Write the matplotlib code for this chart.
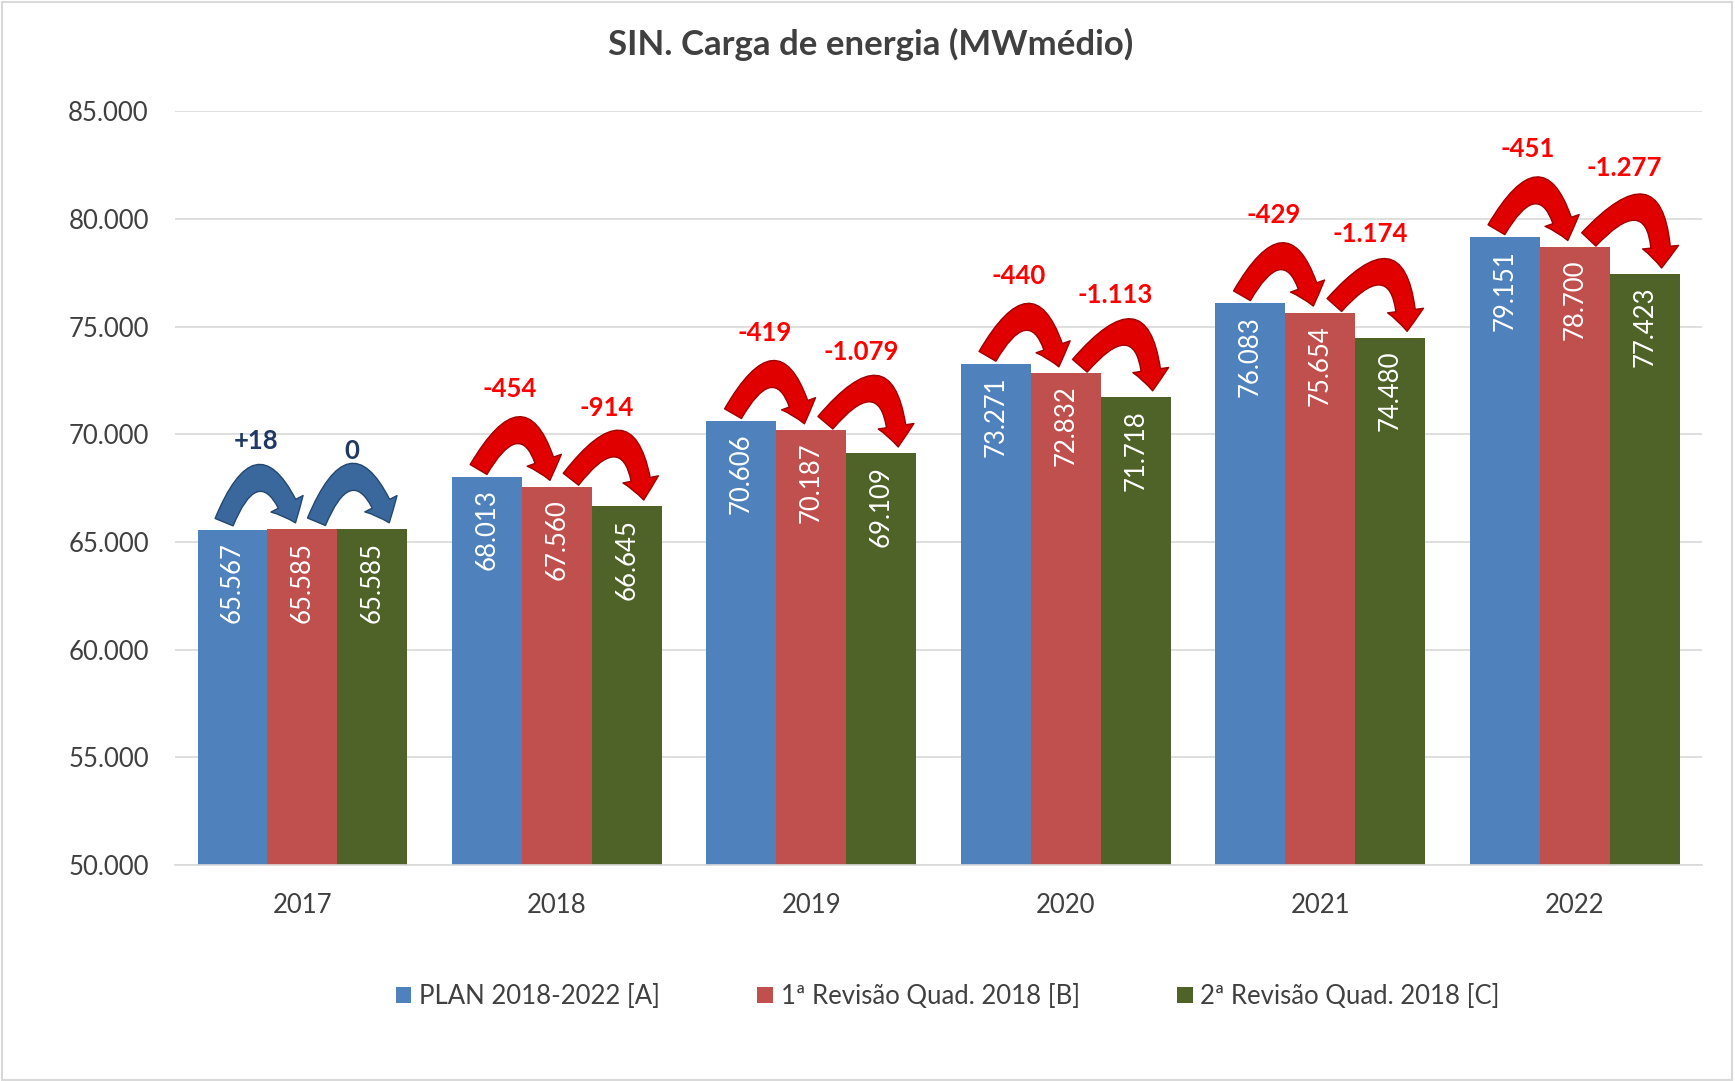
import matplotlib.pyplot as plt
from matplotlib.patches import FancyArrowPatch, Rectangle
import numpy as np

plt.rcParams['font.family'] = ['Lato', 'DejaVu Sans']

anos = ['2017', '2018', '2019', '2020', '2021', '2022']
plan_a = [65567, 68013, 70606, 73271, 76083, 79151]
rev1_b = [65585, 67560, 70187, 72832, 75654, 78700]
rev2_c = [65585, 66645, 69109, 71718, 74480, 77423]
delta_ba = ['+18', '-454', '-419', '-440', '-429', '-451']
delta_cb = ['0', '-914', '-1.079', '-1.113', '-1.174', '-1.277']
series_names = ['PLAN 2018-2022 [A]', '1ª Revisão Quad. 2018 [B]', '2ª Revisão Quad. 2018 [C]']


def fmt(v):
    return f'{v:,.0f}'.replace(',', '.')


fig = plt.figure(figsize=(17.35, 10.81), dpi=100)
ax = fig.add_axes([0.101, 0.2, 0.88, 0.697])

cores = ['#4F81BD', '#C0504D', '#4F6228']
w = 0.275
x = np.arange(len(anos))
bars = []
for i, (vals, cor) in enumerate(zip([plan_a, rev1_b, rev2_c], cores)):
    b = ax.bar(x + (i - 1) * w, vals, w, color=cor, label=series_names[i], zorder=2)
    bars.append(b)
    for xi, v in zip(x + (i - 1) * w, vals):
        ax.annotate(fmt(v), (xi, v), xytext=(0, -9), textcoords='offset points',
                    rotation=90, ha='center', va='top', color='white', fontsize=18.5)

ax.set_ylim(50000, 85000)
ax.set_xlim(-0.5, 5.5)
ax.set_yticks(np.arange(50000, 85001, 5000))
ax.set_yticklabels([fmt(v) for v in np.arange(50000, 85001, 5000)])
ax.yaxis.grid(True, color='#D9D9D9', linewidth=1.2, zorder=0)
ax.set_axisbelow(True)
ax.set_xticks(x)
ax.set_xticklabels(anos)
ax.tick_params(axis='both', length=0, labelsize=18.5, labelcolor='#404040')
ax.tick_params(axis='y', pad=19)
ax.tick_params(axis='x', pad=20)
for s in ['top', 'right', 'left']:
    ax.spines[s].set_visible(False)
ax.spines['bottom'].set_color('#D9D9D9')
ax.spines['bottom'].set_linewidth(1.2)

# setas curvas entre as barras
for i in range(len(anos)):
    if i == 0:
        cor, borda, cor_txt = '#3A689C', '#24476F', '#1F3864'
    else:
        cor, borda, cor_txt = '#E00000', '#A00000', '#FF0000'
    a, b_, c = plan_a[i], rev1_b[i], rev2_c[i]
    pares = [(x[i] - w - 0.12 * w, a, x[i] - 0.1 * w, b_),
             (x[i] + 0.2 * w, b_, x[i] + w + 0.24 * w, c)]
    for x0, y0, x1, y1 in pares:
        seta = FancyArrowPatch((x0, y0 + 350), (x1, y1 + 300),
                               connectionstyle='arc3,rad=-1.25',
                               arrowstyle='simple,head_width=26,head_length=15,tail_width=14',
                               mutation_scale=1, shrinkA=0, shrinkB=0,
                               facecolor=cor, edgecolor=borda, linewidth=1, zorder=3)
        ax.add_patch(seta)
    ax.text(x[i] - w + 0.33 * w, a + 4100, delta_ba[i], ha='center', va='center',
            fontsize=18.5, fontweight='bold', color=cor_txt)
    ax.text(x[i] + 0.71 * w, b_ + 3650, delta_cb[i], ha='center', va='center',
            fontsize=18.5, fontweight='bold', color=cor_txt)

fig.text(0.502, 0.959, 'SIN. Carga de energia (MWmédio)', ha='center', va='center',
         fontsize=25, fontweight='bold', color='#404040')

ax.legend(loc='center', bbox_to_anchor=(0.506, -0.175), ncol=3, frameon=False,
          fontsize=18.5, handlelength=0.6, handleheight=0.6, handletextpad=0.3,
          columnspacing=3.8, labelcolor='#404040')

fig.patches.append(Rectangle((0.001, 0.001), 0.997, 0.997, transform=fig.transFigure,
                             fill=False, edgecolor='#D9D9D9', linewidth=1.5))

fig.savefig('out.png', dpi=100)
